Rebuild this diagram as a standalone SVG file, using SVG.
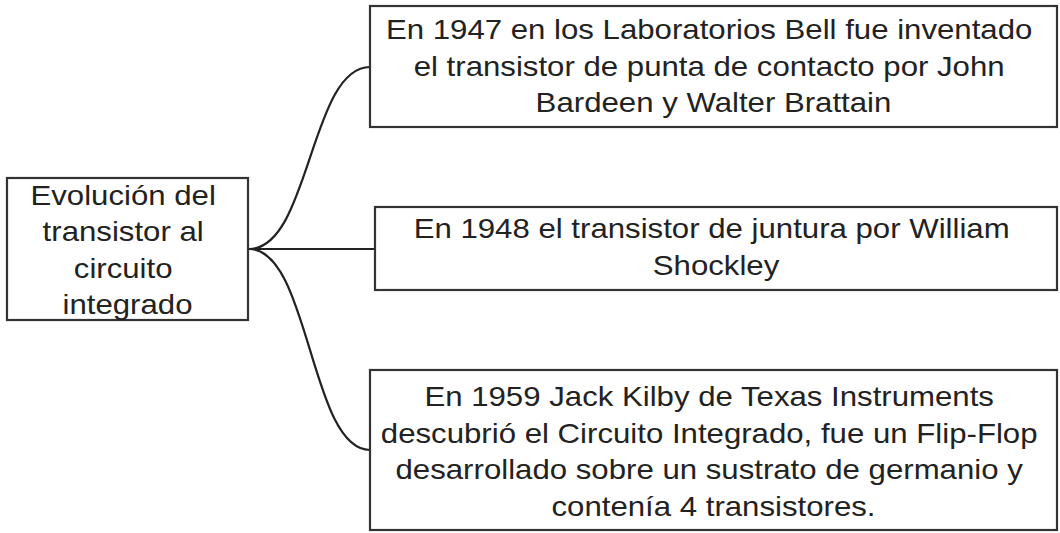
<svg xmlns="http://www.w3.org/2000/svg" width="1060" height="533" viewBox="0 0 1060 533">
  <style>
    .box { fill: #ffffff; stroke: #333333; stroke-width: 2.2; }
    .conn { fill: none; stroke: #222222; stroke-width: 2.2; }
    .lbl { font-family: "Liberation Sans", Arial, sans-serif; font-size: 27px; fill: #222222; text-anchor: middle; }
  </style>
  <rect x="0" y="0" width="1060" height="533" fill="#ffffff"/>
  <g id="connectors">
    <path class="conn" d="M249,249 C310,249 310,67 370,67"/>
    <path class="conn" d="M249,249 L375,249"/>
    <path class="conn" d="M249,249 C310,249 310,450 370,450"/>
  </g>
  <g id="root">
    <rect class="box" x="7" y="178" width="241" height="142"/>
    <text class="lbl" transform="translate(127.5,0) scale(1.155,1)">
      <tspan x="0" y="205">Evolución del</tspan>
      <tspan x="0" y="241.5">transistor al</tspan>
      <tspan x="0" y="278">circuito</tspan>
      <tspan x="0" y="314.5">integrado</tspan>
    </text>
  </g>
  <g id="node1947">
    <rect class="box" x="370" y="6" width="687" height="121"/>
    <text class="lbl" transform="translate(713.5,0) scale(1.155,1)">
      <tspan x="0" y="39.5">En 1947 en los Laboratorios Bell fue inventado</tspan>
      <tspan x="0" y="76">el transistor de punta de contacto por John</tspan>
      <tspan x="0" y="112">Bardeen y Walter Brattain</tspan>
    </text>
  </g>
  <g id="node1948">
    <rect class="box" x="375" y="207" width="682" height="83"/>
    <text class="lbl" transform="translate(716,0) scale(1.155,1)">
      <tspan x="0" y="238">En 1948 el transistor de juntura por William</tspan>
      <tspan x="0" y="275">Shockley</tspan>
    </text>
  </g>
  <g id="node1959">
    <rect class="box" x="370" y="370" width="687" height="160"/>
    <text class="lbl" transform="translate(713.5,0) scale(1.155,1)">
      <tspan x="0" y="406.5">En 1959 Jack Kilby de Texas Instruments</tspan>
      <tspan x="0" y="443">descubrió el Circuito Integrado, fue un Flip-Flop</tspan>
      <tspan x="0" y="479.5">desarrollado sobre un sustrato de germanio y</tspan>
      <tspan x="0" y="516">contenía 4 transistores.</tspan>
    </text>
  </g>
</svg>
